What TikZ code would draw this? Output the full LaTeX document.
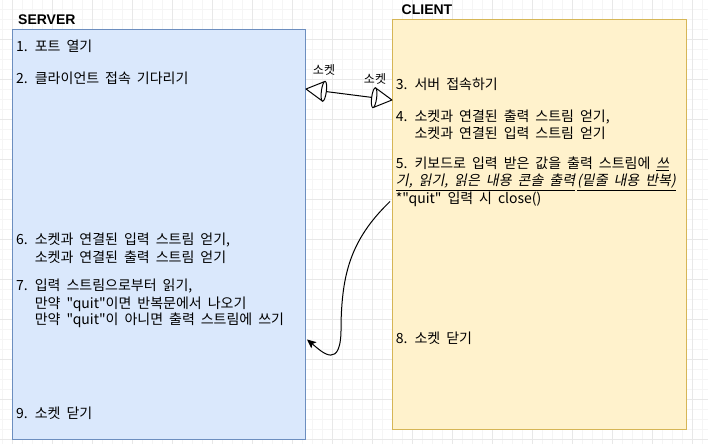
\documentclass[tikz,border=0pt]{standalone}
\usepackage{fontspec}
\setmainfont{Liberation Sans}
\newfontfamily\kr{Noto Sans CJK KR}[WordSpace=1.9]
\newfontfamily\krsl{Noto Sans CJK KR}[WordSpace=1.9,FakeSlant=0.2]
\usetikzlibrary{arrows.meta,positioning,calc}
\definecolor{srvfill}{HTML}{DAE8FC}
\definecolor{srvline}{HTML}{6C8EBF}
\definecolor{clifill}{HTML}{FFF2CC}
\definecolor{cliline}{HTML}{D6B656}
\definecolor{gridminor}{HTML}{F5F5F5}
\definecolor{gridmajor}{HTML}{E8E8E8}

\begin{document}
\begin{tikzpicture}[x=1pt, y=-1pt,
  >={Stealth[length=9pt,width=8pt,inset=2pt]},
  box/.style={draw, line width=1pt, rectangle, anchor=north west, inner sep=0pt},
  title/.style={font=\bfseries\fontsize{14}{16}\selectfont, anchor=west, inner sep=0pt},
  item/.style={font=\kr\fontsize{14}{16}\selectfont, anchor=north west, inner sep=0pt, align=left},
  lab/.style={font=\kr\fontsize{12}{14}\selectfont, inner sep=0pt},
  cone/.style={draw, line width=1pt, fill=white, line join=round}]
  \useasboundingbox (0,0) rectangle (708,444);
  \fill[white] (0,0) rectangle (708,444);
  \foreach \gx in {2.7,12.7,...,702.7} \draw[gridminor, line width=0.8pt] (\gx,0) -- (\gx,444);
  \foreach \gy in {9.3,19.3,...,439.3} \draw[gridminor, line width=0.8pt] (0,\gy) -- (708,\gy);
  \foreach \gx in {12.7,52.7,...,692.7} \draw[gridmajor, line width=0.8pt] (\gx,0) -- (\gx,444);
  \foreach \gy in {39.3,79.3,...,439.3} \draw[gridmajor, line width=0.8pt] (0,\gy) -- (708,\gy);

  \node[box, draw=srvline, fill=srvfill, minimum width=293pt, minimum height=410pt] (srv) at (12,29) {};
  \node[box, draw=cliline, fill=clifill, minimum width=294pt, minimum height=410pt] (cli) at (392,19) {};
  \node[title] (srvt) at (18,19.5) {SERVER};
  \node[title] (clit) at (401.5,9.5) {CLIENT};

  \node[item] (s1) at (16,40) {\strut 1. 포트 열기};
  \node[item] (s2) at (16,71.5) {\strut 2. 클라이언트 접속 기다리기};
  \node[item] (s6) at (16,233) {\strut 6. 소켓과 연결된 입력 스트림 얻기,\\
    \phantom{6. }소켓과 연결된 출력 스트림 얻기};
  \node[item] (s7) at (16,279) {\strut 7. 입력 스트림으로부터 읽기,\\
    \phantom{7. }만약 "quit"이면 반복문에서 나오기\\
    \phantom{7. }만약 "quit"이 아니면 출력 스트림에 쓰기};
  \node[item] (s9) at (16,407) {\strut 9. 소켓 닫기};

  \node[item] (c3) at (395.7,77.5) {\strut 3. 서버 접속하기};
  \node[item] (c4) at (395.7,109.5) {\strut 4. 소켓과 연결된 출력 스트림 얻기,\\
    \phantom{4. }소켓과 연결된 입력 스트림 얻기};
  \node[item] (c5) at (395.7,156.5) {\strut 5. 키보드로 입력 받은 값을 출력 스트림에 {\krsl\underline{쓰}}\\
    {\krsl\underline{기, 읽기, 읽은 내용 콘솔 출력}\hspace{2pt}\underline{(밑줄 내용 반복)}}\\
    *"quit" 입력 시 close()};
  \node[item] (c8) at (395.7,332) {\strut 8. 소켓 닫기};

  \coordinate (sockS) at ($(srv.north east)+(0,60)$);
  \coordinate (sockC) at ($(cli.north west)+(0,81)$);
  \coordinate (baseS) at ($(sockS)!18pt!(sockC)$);
  \coordinate (baseC) at ($(sockC)!18pt!(sockS)$);
  \draw[line width=1pt] (baseS) -- (baseC);
  \draw[cone] (sockS) -- ($(baseS)!10pt!90:(sockS)$) -- ($(baseS)!10pt!-90:(sockS)$) -- cycle;
  \draw[cone] (sockC) -- ($(baseC)!10pt!90:(sockC)$) -- ($(baseC)!10pt!-90:(sockC)$) -- cycle;
  \draw[cone] let \p1=($(sockC)-(sockS)$), \n1={atan2(\y1,\x1)} in
    (baseS) ellipse [x radius=2.5pt, y radius=10pt, rotate=\n1]
    (baseC) ellipse [x radius=2.5pt, y radius=10pt, rotate=\n1];
  \node[lab] (labS) at (324,70) {소켓};
  \node[lab] (labC) at (375,79) {소켓};

  \coordinate (retC) at ($(cli.west)+(-2,-23)$);
  \coordinate (retS) at ($(srv.east)+(1,105)$);
  \draw[->, line width=1pt] (retC) .. controls (350,240) and (342,275) .. (341,325)
    .. controls (342,372) and (322,352) .. (retS);
\end{tikzpicture}
\end{document}
